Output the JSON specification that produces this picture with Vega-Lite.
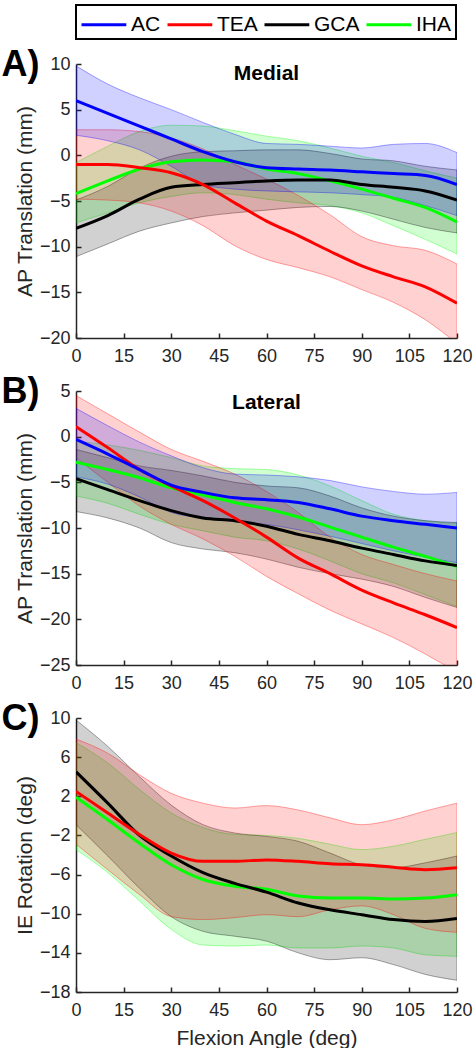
{
  "$schema": "https://vega.github.io/schema/vega-lite/v6.json",
  "padding": {"left": 1, "top": 4, "right": 6, "bottom": 0},
  "config": {
    "font": "Liberation Sans",
    "view": {"stroke": null},
    "concat": {"spacing": 9},
    "axis": {"grid": false, "domainColor": "#262626", "domainWidth": 1.5, "tickColor": "#262626", "tickWidth": 1.5, "tickSize": -5, "labelFontSize": 18, "labelColor": "#262626", "labelPadding": 11, "labelFlush": false, "titleFontSize": 21, "titleFontWeight": "normal", "titleColor": "#262626", "labelFont": "Liberation Sans", "titleFont": "Liberation Sans"},
    "axisX": {"labelPadding": 14},
    "legend": {"orient": "top", "direction": "horizontal", "symbolStrokeWidth": 3, "labelFontSize": 21, "labelColor": "#000000", "padding": 4, "strokeColor": "#000000", "fillColor": "#ffffff", "strokeWidth": 2, "offset": 8},
    "title": {"font": "Liberation Sans", "color": "#000000"}
  },
  "datasets": {
    "d": [
      {"p":"A","s":"IHA","x":0,"m":-4.2,"lo":-7.4,"hi":-0.8},
      {"p":"A","s":"IHA","x":10,"m":-2.8,"lo":-6.3,"hi":1.0},
      {"p":"A","s":"IHA","x":20,"m":-1.5,"lo":-5.2,"hi":2.6},
      {"p":"A","s":"IHA","x":30,"m":-0.7,"lo":-4.5,"hi":3.3},
      {"p":"A","s":"IHA","x":40,"m":-0.5,"lo":-4.1,"hi":3.2},
      {"p":"A","s":"IHA","x":50,"m":-0.7,"lo":-4.3,"hi":2.7},
      {"p":"A","s":"IHA","x":60,"m":-1.5,"lo":-4.8,"hi":2.1},
      {"p":"A","s":"IHA","x":70,"m":-2.0,"lo":-5.2,"hi":1.6},
      {"p":"A","s":"IHA","x":80,"m":-2.8,"lo":-5.5,"hi":0.8},
      {"p":"A","s":"IHA","x":90,"m":-3.7,"lo":-6.3,"hi":-0.1},
      {"p":"A","s":"IHA","x":100,"m":-4.7,"lo":-7.7,"hi":-0.8},
      {"p":"A","s":"IHA","x":110,"m":-5.7,"lo":-9.2,"hi":-1.7},
      {"p":"A","s":"IHA","x":120,"m":-7.3,"lo":-10.8,"hi":-2.5},
      {"p":"A","s":"GCA","x":0,"m":-8.0,"lo":-11.1,"hi":-4.9},
      {"p":"A","s":"GCA","x":10,"m":-6.6,"lo":-9.7,"hi":-3.4},
      {"p":"A","s":"GCA","x":20,"m":-4.8,"lo":-8.3,"hi":-1.4},
      {"p":"A","s":"GCA","x":30,"m":-3.5,"lo":-7.4,"hi":-0.1},
      {"p":"A","s":"GCA","x":40,"m":-3.2,"lo":-6.7,"hi":0.4},
      {"p":"A","s":"GCA","x":50,"m":-3.0,"lo":-6.3,"hi":0.5},
      {"p":"A","s":"GCA","x":60,"m":-2.8,"lo":-6.0,"hi":0.6},
      {"p":"A","s":"GCA","x":70,"m":-2.7,"lo":-5.7,"hi":0.6},
      {"p":"A","s":"GCA","x":80,"m":-2.7,"lo":-5.6,"hi":0.2},
      {"p":"A","s":"GCA","x":90,"m":-3.2,"lo":-6.1,"hi":-0.4},
      {"p":"A","s":"GCA","x":100,"m":-3.5,"lo":-7.0,"hi":-0.6},
      {"p":"A","s":"GCA","x":110,"m":-3.9,"lo":-7.9,"hi":-1.2},
      {"p":"A","s":"GCA","x":120,"m":-4.9,"lo":-8.5,"hi":-1.6},
      {"p":"A","s":"TEA","x":0,"m":-1.0,"lo":-4.8,"hi":2.8},
      {"p":"A","s":"TEA","x":10,"m":-1.0,"lo":-4.9,"hi":2.8},
      {"p":"A","s":"TEA","x":20,"m":-1.35,"lo":-5.2,"hi":2.6},
      {"p":"A","s":"TEA","x":30,"m":-1.9,"lo":-6.1,"hi":1.9},
      {"p":"A","s":"TEA","x":40,"m":-3.2,"lo":-7.7,"hi":0.7},
      {"p":"A","s":"TEA","x":50,"m":-5.2,"lo":-9.9,"hi":-1.0},
      {"p":"A","s":"TEA","x":60,"m":-7.2,"lo":-11.4,"hi":-2.6},
      {"p":"A","s":"TEA","x":70,"m":-8.8,"lo":-12.3,"hi":-4.4},
      {"p":"A","s":"TEA","x":80,"m":-10.5,"lo":-13.3,"hi":-6.5},
      {"p":"A","s":"TEA","x":90,"m":-12.1,"lo":-14.7,"hi":-8.9},
      {"p":"A","s":"TEA","x":100,"m":-13.3,"lo":-16.1,"hi":-9.9},
      {"p":"A","s":"TEA","x":110,"m":-14.4,"lo":-18.0,"hi":-10.4},
      {"p":"A","s":"TEA","x":120,"m":-16.2,"lo":-20.6,"hi":-11.9},
      {"p":"A","s":"AC","x":0,"m":6.0,"lo":2.2,"hi":9.8},
      {"p":"A","s":"AC","x":10,"m":4.6,"lo":1.6,"hi":7.8},
      {"p":"A","s":"AC","x":20,"m":3.2,"lo":0.6,"hi":6.3},
      {"p":"A","s":"AC","x":30,"m":1.8,"lo":-1.2,"hi":5.0},
      {"p":"A","s":"AC","x":40,"m":0.4,"lo":-3.2,"hi":3.6},
      {"p":"A","s":"AC","x":50,"m":-0.7,"lo":-3.7,"hi":2.3},
      {"p":"A","s":"AC","x":60,"m":-1.35,"lo":-3.9,"hi":1.3},
      {"p":"A","s":"AC","x":70,"m":-1.5,"lo":-4.0,"hi":1.2},
      {"p":"A","s":"AC","x":80,"m":-1.6,"lo":-4.1,"hi":1.0},
      {"p":"A","s":"AC","x":90,"m":-1.8,"lo":-4.3,"hi":0.8},
      {"p":"A","s":"AC","x":100,"m":-2.0,"lo":-4.6,"hi":1.2},
      {"p":"A","s":"AC","x":110,"m":-2.2,"lo":-5.5,"hi":1.3},
      {"p":"A","s":"AC","x":120,"m":-3.2,"lo":-6.6,"hi":0.3},
      {"p":"B","s":"IHA","x":0,"m":-2.8,"lo":-6.5,"hi":-0.5},
      {"p":"B","s":"IHA","x":10,"m":-3.6,"lo":-7.3,"hi":-0.9},
      {"p":"B","s":"IHA","x":20,"m":-4.5,"lo":-8.5,"hi":-1.5},
      {"p":"B","s":"IHA","x":30,"m":-5.6,"lo":-9.6,"hi":-2.3},
      {"p":"B","s":"IHA","x":40,"m":-6.4,"lo":-10.3,"hi":-3.2},
      {"p":"B","s":"IHA","x":50,"m":-7.2,"lo":-11.0,"hi":-3.5},
      {"p":"B","s":"IHA","x":60,"m":-7.9,"lo":-11.4,"hi":-3.6},
      {"p":"B","s":"IHA","x":70,"m":-8.8,"lo":-12.3,"hi":-4.2},
      {"p":"B","s":"IHA","x":80,"m":-9.9,"lo":-13.6,"hi":-5.4},
      {"p":"B","s":"IHA","x":90,"m":-11.0,"lo":-15.0,"hi":-7.0},
      {"p":"B","s":"IHA","x":100,"m":-12.1,"lo":-16.0,"hi":-8.5},
      {"p":"B","s":"IHA","x":110,"m":-13.1,"lo":-17.3,"hi":-9.2},
      {"p":"B","s":"IHA","x":120,"m":-14.2,"lo":-18.6,"hi":-9.5},
      {"p":"B","s":"GCA","x":0,"m":-4.6,"lo":-8.2,"hi":-1.4},
      {"p":"B","s":"GCA","x":10,"m":-5.8,"lo":-8.9,"hi":-2.3},
      {"p":"B","s":"GCA","x":20,"m":-7.0,"lo":-10.0,"hi":-3.2},
      {"p":"B","s":"GCA","x":30,"m":-8.1,"lo":-11.6,"hi":-3.7},
      {"p":"B","s":"GCA","x":40,"m":-8.9,"lo":-12.3,"hi":-4.3},
      {"p":"B","s":"GCA","x":50,"m":-9.2,"lo":-12.7,"hi":-5.0},
      {"p":"B","s":"GCA","x":60,"m":-9.8,"lo":-13.4,"hi":-5.4},
      {"p":"B","s":"GCA","x":70,"m":-10.7,"lo":-14.3,"hi":-5.6},
      {"p":"B","s":"GCA","x":80,"m":-11.4,"lo":-15.0,"hi":-6.5},
      {"p":"B","s":"GCA","x":90,"m":-12.2,"lo":-15.6,"hi":-7.8},
      {"p":"B","s":"GCA","x":100,"m":-12.9,"lo":-16.4,"hi":-8.7},
      {"p":"B","s":"GCA","x":110,"m":-13.6,"lo":-17.6,"hi":-9.2},
      {"p":"B","s":"GCA","x":120,"m":-14.1,"lo":-18.7,"hi":-9.4},
      {"p":"B","s":"TEA","x":0,"m":1.1,"lo":-2.3,"hi":4.5},
      {"p":"B","s":"TEA","x":10,"m":-1.2,"lo":-5.0,"hi":2.5},
      {"p":"B","s":"TEA","x":20,"m":-3.6,"lo":-7.6,"hi":0.5},
      {"p":"B","s":"TEA","x":30,"m":-5.4,"lo":-9.6,"hi":-1.4},
      {"p":"B","s":"TEA","x":40,"m":-7.0,"lo":-11.2,"hi":-2.7},
      {"p":"B","s":"TEA","x":50,"m":-8.9,"lo":-13.1,"hi":-4.1},
      {"p":"B","s":"TEA","x":60,"m":-11.0,"lo":-15.3,"hi":-6.0},
      {"p":"B","s":"TEA","x":70,"m":-13.3,"lo":-17.2,"hi":-8.3},
      {"p":"B","s":"TEA","x":80,"m":-15.0,"lo":-19.0,"hi":-11.0},
      {"p":"B","s":"TEA","x":90,"m":-16.8,"lo":-20.5,"hi":-12.9},
      {"p":"B","s":"TEA","x":100,"m":-18.2,"lo":-22.0,"hi":-14.0},
      {"p":"B","s":"TEA","x":110,"m":-19.5,"lo":-23.8,"hi":-15.0},
      {"p":"B","s":"TEA","x":120,"m":-20.9,"lo":-25.8,"hi":-15.8},
      {"p":"B","s":"AC","x":0,"m":-0.3,"lo":-4.4,"hi":3.1},
      {"p":"B","s":"AC","x":10,"m":-1.9,"lo":-5.2,"hi":1.2},
      {"p":"B","s":"AC","x":20,"m":-3.6,"lo":-6.6,"hi":-0.6},
      {"p":"B","s":"AC","x":30,"m":-5.3,"lo":-8.3,"hi":-2.1},
      {"p":"B","s":"AC","x":40,"m":-6.1,"lo":-8.9,"hi":-3.4},
      {"p":"B","s":"AC","x":50,"m":-6.7,"lo":-9.3,"hi":-4.1},
      {"p":"B","s":"AC","x":60,"m":-6.9,"lo":-9.6,"hi":-4.2},
      {"p":"B","s":"AC","x":70,"m":-7.2,"lo":-10.2,"hi":-4.4},
      {"p":"B","s":"AC","x":80,"m":-7.9,"lo":-10.9,"hi":-4.8},
      {"p":"B","s":"AC","x":90,"m":-8.7,"lo":-11.7,"hi":-5.5},
      {"p":"B","s":"AC","x":100,"m":-9.2,"lo":-12.5,"hi":-6.0},
      {"p":"B","s":"AC","x":110,"m":-9.6,"lo":-13.2,"hi":-6.3},
      {"p":"B","s":"AC","x":120,"m":-10.0,"lo":-13.8,"hi":-6.1},
      {"p":"C","s":"IHA","x":0,"m":1.9,"lo":-3.45,"hi":7.5},
      {"p":"C","s":"IHA","x":10,"m":-0.4,"lo":-5.8,"hi":5.4},
      {"p":"C","s":"IHA","x":20,"m":-2.8,"lo":-8.7,"hi":2.7},
      {"p":"C","s":"IHA","x":30,"m":-5.0,"lo":-11.6,"hi":0.3},
      {"p":"C","s":"IHA","x":40,"m":-6.5,"lo":-13.2,"hi":-1.2},
      {"p":"C","s":"IHA","x":50,"m":-7.2,"lo":-13.3,"hi":-1.9},
      {"p":"C","s":"IHA","x":60,"m":-7.5,"lo":-13.2,"hi":-2.0},
      {"p":"C","s":"IHA","x":70,"m":-8.2,"lo":-13.5,"hi":-2.3},
      {"p":"C","s":"IHA","x":80,"m":-8.4,"lo":-13.5,"hi":-2.9},
      {"p":"C","s":"IHA","x":90,"m":-8.4,"lo":-13.3,"hi":-3.45},
      {"p":"C","s":"IHA","x":100,"m":-8.5,"lo":-13.5,"hi":-3.1},
      {"p":"C","s":"IHA","x":110,"m":-8.4,"lo":-14.2,"hi":-2.4},
      {"p":"C","s":"IHA","x":120,"m":-8.05,"lo":-14.35,"hi":-1.7},
      {"p":"C","s":"GCA","x":0,"m":4.5,"lo":-0.9,"hi":9.8},
      {"p":"C","s":"GCA","x":10,"m":1.3,"lo":-4.1,"hi":7.1},
      {"p":"C","s":"GCA","x":20,"m":-2.0,"lo":-7.4,"hi":4.0},
      {"p":"C","s":"GCA","x":30,"m":-4.1,"lo":-10.3,"hi":1.1},
      {"p":"C","s":"GCA","x":40,"m":-5.8,"lo":-11.8,"hi":-0.9},
      {"p":"C","s":"GCA","x":50,"m":-6.9,"lo":-12.3,"hi":-1.75},
      {"p":"C","s":"GCA","x":60,"m":-7.8,"lo":-12.8,"hi":-2.1},
      {"p":"C","s":"GCA","x":70,"m":-8.9,"lo":-14.0,"hi":-2.6},
      {"p":"C","s":"GCA","x":80,"m":-9.6,"lo":-14.7,"hi":-3.8},
      {"p":"C","s":"GCA","x":90,"m":-10.1,"lo":-14.5,"hi":-5.0},
      {"p":"C","s":"GCA","x":100,"m":-10.6,"lo":-15.2,"hi":-5.3},
      {"p":"C","s":"GCA","x":110,"m":-10.8,"lo":-16.2,"hi":-4.8},
      {"p":"C","s":"GCA","x":120,"m":-10.5,"lo":-16.8,"hi":-4.1},
      {"p":"C","s":"TEA","x":0,"m":2.5,"lo":-2.9,"hi":7.85},
      {"p":"C","s":"TEA","x":10,"m":0.3,"lo":-5.5,"hi":6.4},
      {"p":"C","s":"TEA","x":20,"m":-1.9,"lo":-8.05,"hi":4.2},
      {"p":"C","s":"TEA","x":30,"m":-3.8,"lo":-10.3,"hi":2.3},
      {"p":"C","s":"TEA","x":40,"m":-4.65,"lo":-10.6,"hi":1.3},
      {"p":"C","s":"TEA","x":50,"m":-4.65,"lo":-10.4,"hi":0.8},
      {"p":"C","s":"TEA","x":60,"m":-4.5,"lo":-10.1,"hi":1.05},
      {"p":"C","s":"TEA","x":70,"m":-4.65,"lo":-10.3,"hi":0.6},
      {"p":"C","s":"TEA","x":80,"m":-4.9,"lo":-9.6,"hi":-0.2},
      {"p":"C","s":"TEA","x":90,"m":-5.0,"lo":-9.2,"hi":-0.9},
      {"p":"C","s":"TEA","x":100,"m":-5.25,"lo":-10.1,"hi":-0.4},
      {"p":"C","s":"TEA","x":110,"m":-5.5,"lo":-11.5,"hi":0.5},
      {"p":"C","s":"TEA","x":120,"m":-5.3,"lo":-11.9,"hi":1.3}
    ]
  },
  "vconcat": [
    {
      "title": {"text": "A)", "anchor": "start", "fontSize": 36, "fontWeight": "bold", "offset": 0, "dy": 29, "dx": -13},
      "vconcat": [{
        "width": 381, "height": 274,
        "title": {"text": "Medial", "anchor": "middle", "fontSize": 21, "fontWeight": "bold", "offset": 0, "dy": 29},
        "data": {"name": "d"},
        "transform": [{"filter": "datum.p === 'A'"}],
        "encoding": {"x": {"field": "x", "type": "quantitative", "scale": {"domain": [0, 120], "nice": false}, "axis": {"values": [0, 15, 30, 45, 60, 75, 90, 105, 120], "title": null}}},
        "layer": [
          {"mark": {"type": "area", "interpolate": "monotone", "clip": true, "fillOpacity": 0.18, "strokeOpacity": 0.35, "strokeWidth": 1},
           "encoding": {
             "y": {"field": "lo", "type": "quantitative", "scale": {"domain": [-20, 10], "nice": false}, "axis": {"values": [-20, -15, -10, -5, 0, 5, 10], "title": "AP Translation (mm)"}},
             "y2": {"field": "hi"},
             "fill": {"field": "s", "type": "nominal", "scale": {"domain": ["AC", "GCA", "IHA", "TEA"], "range": ["#0000ff", "#000000", "#00ff00", "#ff0000"]}, "legend": null},
             "stroke": {"field": "s", "type": "nominal", "scale": {"domain": ["AC", "GCA", "IHA", "TEA"], "range": ["#0000ff", "#000000", "#00ff00", "#ff0000"]}, "legend": null},
             "strokeDash": {"field": "s", "type": "nominal", "scale": {"domain": ["AC", "GCA", "IHA", "TEA"], "range": [[1, 0], [1, 0], [2, 2], [1, 0]]}, "legend": null}
           }},
          {"mark": {"type": "line", "interpolate": "monotone", "clip": true, "strokeWidth": 3},
           "encoding": {
             "y": {"field": "m", "type": "quantitative", "axis": {"values": [-20, -15, -10, -5, 0, 5, 10], "title": "AP Translation (mm)"}},
             "color": {"field": "s", "type": "nominal", "title": null, "scale": {"domain": ["AC", "TEA", "GCA", "IHA"], "range": ["#0000ff", "#ff0000", "#000000", "#00ff00"]}, "legend": {"orient": "top", "direction": "horizontal", "symbolType": "M-1,0H2.2", "symbolSize": 784, "labelOffset": 20, "columnPadding": 0}}
           }}
        ]
      }]
    },
    {
      "title": {"text": "B)", "anchor": "start", "fontSize": 36, "fontWeight": "bold", "offset": 0, "dy": 29, "dx": -13},
      "vconcat": [{
        "width": 381, "height": 274,
        "title": {"text": "Lateral", "anchor": "middle", "fontSize": 21, "fontWeight": "bold", "offset": 0, "dy": 31},
        "data": {"name": "d"},
        "transform": [{"filter": "datum.p === 'B'"}],
        "encoding": {"x": {"field": "x", "type": "quantitative", "scale": {"domain": [0, 120], "nice": false}, "axis": {"values": [0, 15, 30, 45, 60, 75, 90, 105, 120], "title": null}}},
        "layer": [
          {"mark": {"type": "area", "interpolate": "monotone", "clip": true, "fillOpacity": 0.18, "strokeOpacity": 0.35, "strokeWidth": 1},
           "encoding": {
             "y": {"field": "lo", "type": "quantitative", "scale": {"domain": [-25, 5], "nice": false}, "axis": {"values": [-25, -20, -15, -10, -5, 0, 5], "title": "AP Translation (mm)"}},
             "y2": {"field": "hi"},
             "fill": {"field": "s", "type": "nominal", "scale": {"domain": ["AC", "GCA", "IHA", "TEA"], "range": ["#0000ff", "#000000", "#00ff00", "#ff0000"]}, "legend": null},
             "stroke": {"field": "s", "type": "nominal", "scale": {"domain": ["AC", "GCA", "IHA", "TEA"], "range": ["#0000ff", "#000000", "#00ff00", "#ff0000"]}, "legend": null},
             "strokeDash": {"field": "s", "type": "nominal", "scale": {"domain": ["AC", "GCA", "IHA", "TEA"], "range": [[1, 0], [1, 0], [2, 2], [1, 0]]}, "legend": null}
           }},
          {"mark": {"type": "line", "interpolate": "monotone", "clip": true, "strokeWidth": 3},
           "encoding": {
             "y": {"field": "m", "type": "quantitative", "axis": {"values": [-25, -20, -15, -10, -5, 0, 5], "title": "AP Translation (mm)"}},
             "color": {"field": "s", "type": "nominal", "title": null, "scale": {"domain": ["AC", "TEA", "GCA", "IHA"], "range": ["#0000ff", "#ff0000", "#000000", "#00ff00"]}, "legend": {"orient": "top", "direction": "horizontal", "symbolType": "M-1,0H2.2", "symbolSize": 784, "labelOffset": 20, "columnPadding": 0}}
           }}
        ]
      }]
    },
    {
      "title": {"text": "C)", "anchor": "start", "fontSize": 36, "fontWeight": "bold", "offset": 0, "dy": 29, "dx": -13},
      "vconcat": [{
        "width": 381, "height": 274,
        "data": {"name": "d"},
        "transform": [{"filter": "datum.p === 'C'"}],
        "encoding": {"x": {"field": "x", "type": "quantitative", "scale": {"domain": [0, 120], "nice": false}, "axis": {"values": [0, 15, 30, 45, 60, 75, 90, 105, 120], "title": "Flexion Angle (deg)", "titlePadding": 8}}},
        "layer": [
          {"mark": {"type": "area", "interpolate": "monotone", "clip": true, "fillOpacity": 0.18, "strokeOpacity": 0.35, "strokeWidth": 1},
           "encoding": {
             "y": {"field": "lo", "type": "quantitative", "scale": {"domain": [-18, 10], "nice": false}, "axis": {"values": [-18, -14, -10, -6, -2, 2, 6, 10], "title": "IE Rotation (deg)"}},
             "y2": {"field": "hi"},
             "fill": {"field": "s", "type": "nominal", "scale": {"domain": ["AC", "GCA", "IHA", "TEA"], "range": ["#0000ff", "#000000", "#00ff00", "#ff0000"]}, "legend": null},
             "stroke": {"field": "s", "type": "nominal", "scale": {"domain": ["AC", "GCA", "IHA", "TEA"], "range": ["#0000ff", "#000000", "#00ff00", "#ff0000"]}, "legend": null},
             "strokeDash": {"field": "s", "type": "nominal", "scale": {"domain": ["AC", "GCA", "IHA", "TEA"], "range": [[1, 0], [1, 0], [2, 2], [1, 0]]}, "legend": null}
           }},
          {"mark": {"type": "line", "interpolate": "monotone", "clip": true, "strokeWidth": 3},
           "encoding": {
             "y": {"field": "m", "type": "quantitative", "axis": {"values": [-18, -14, -10, -6, -2, 2, 6, 10], "title": "IE Rotation (deg)"}},
             "color": {"field": "s", "type": "nominal", "title": null, "scale": {"domain": ["AC", "TEA", "GCA", "IHA"], "range": ["#0000ff", "#ff0000", "#000000", "#00ff00"]}, "legend": {"orient": "top", "direction": "horizontal", "symbolType": "M-1,0H2.2", "symbolSize": 784, "labelOffset": 20, "columnPadding": 0}}
           }}
        ]
      }]
    }
  ]
}
